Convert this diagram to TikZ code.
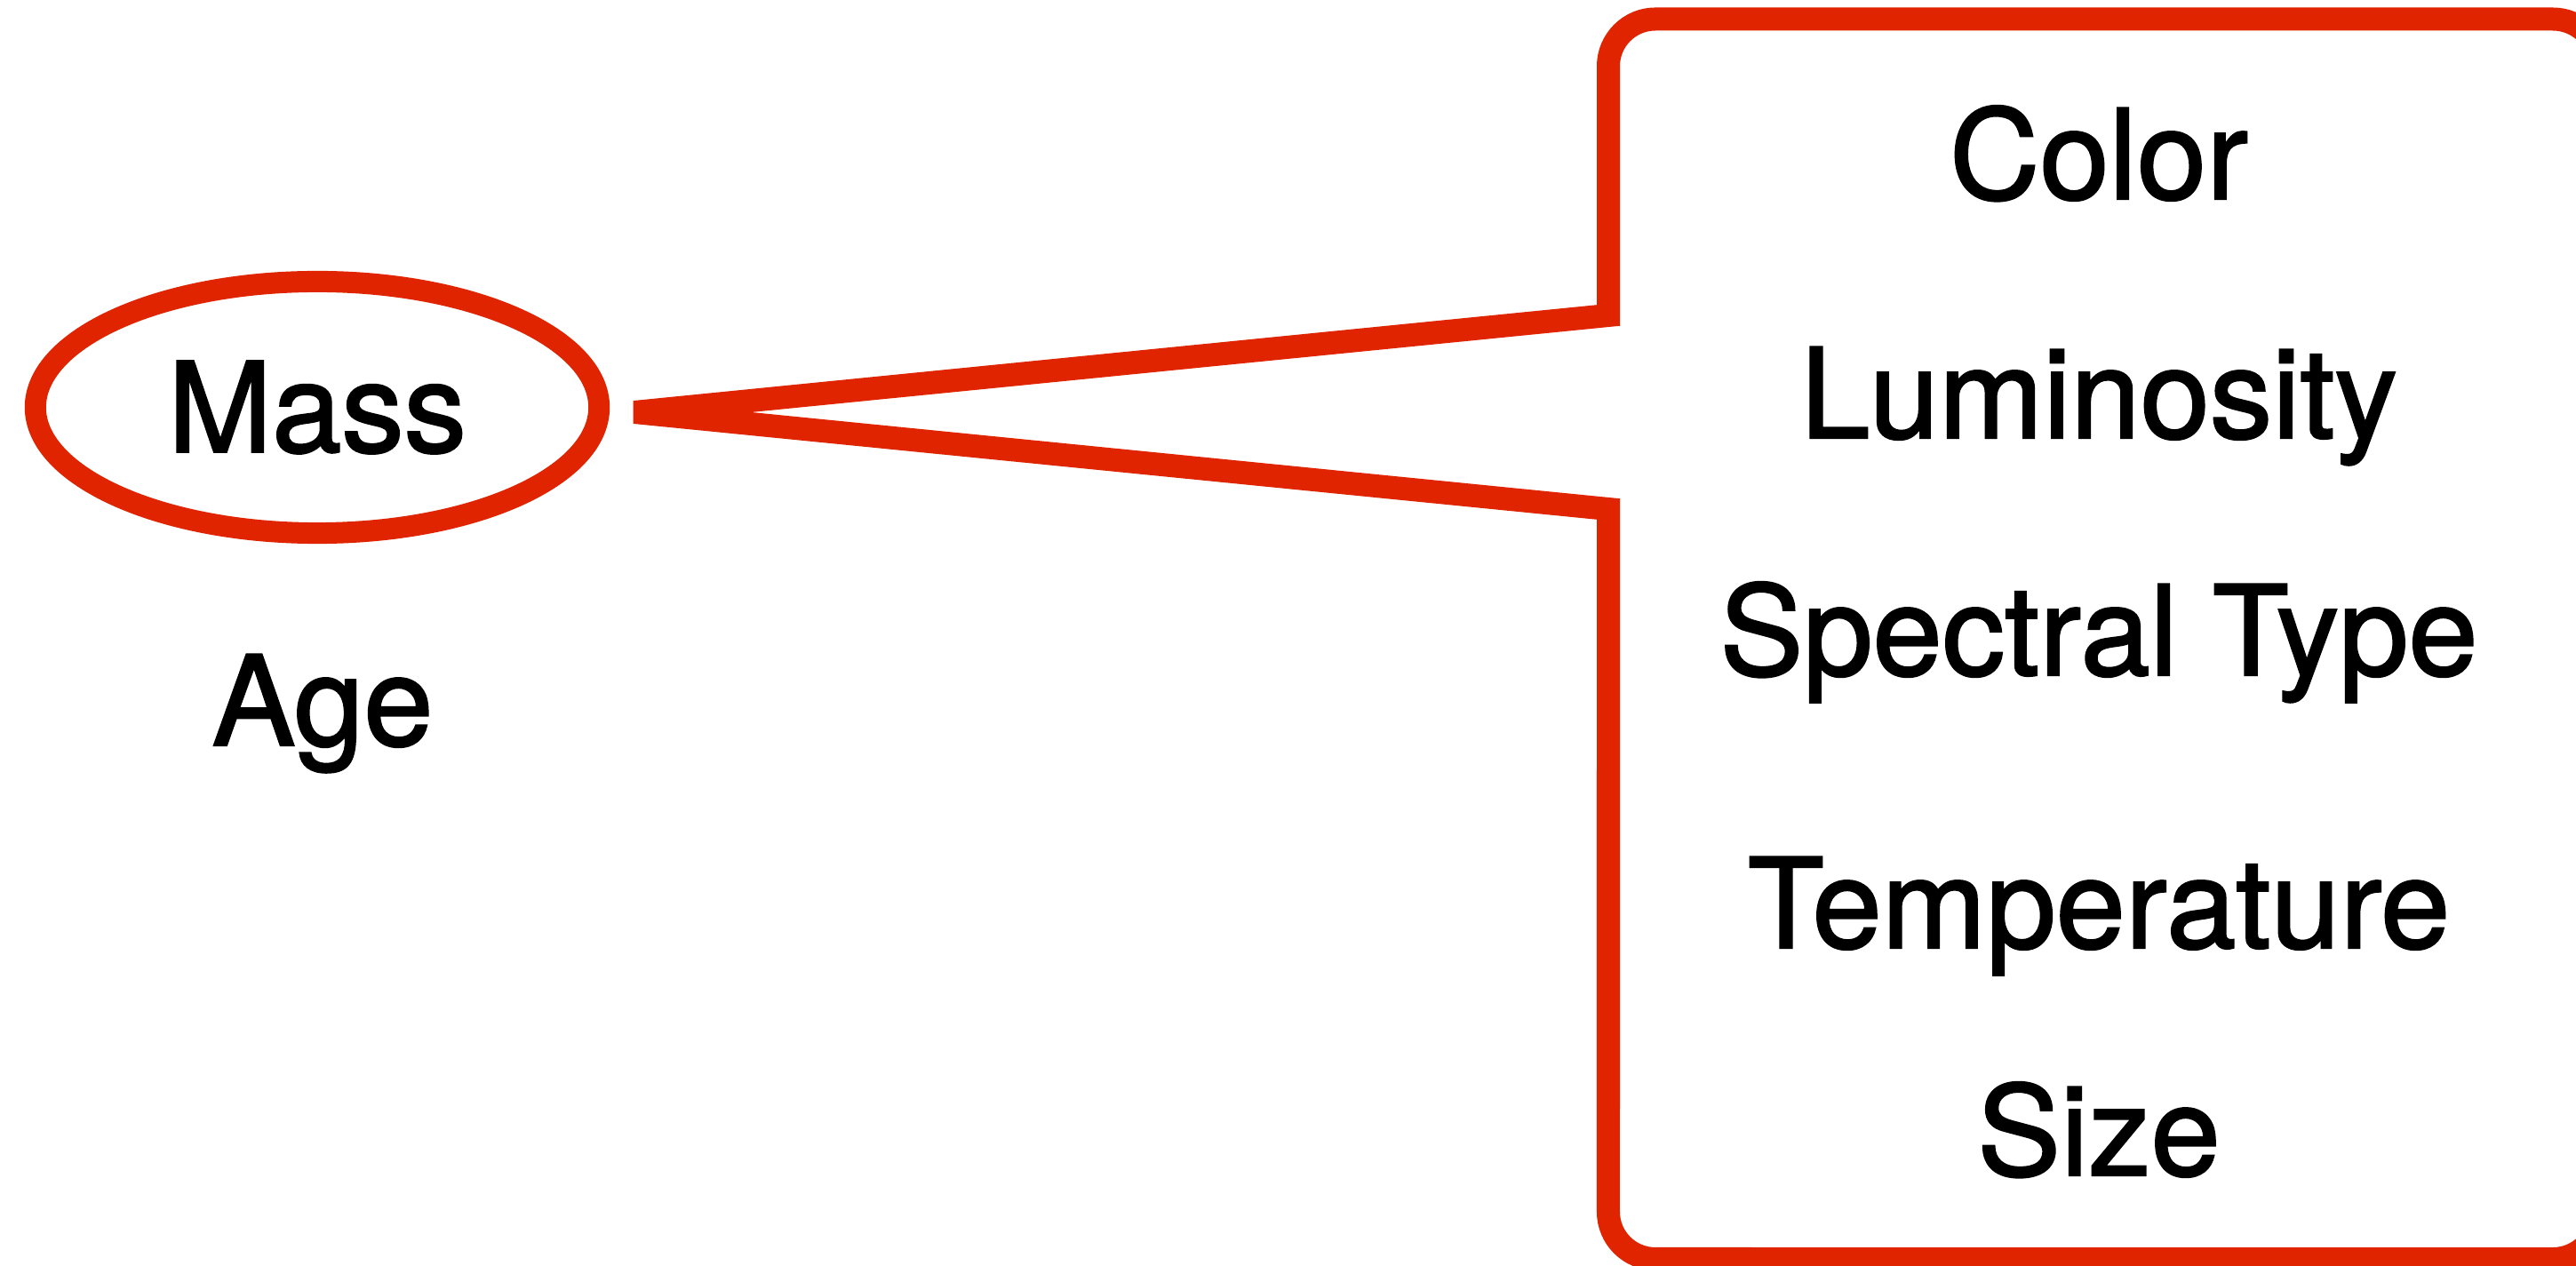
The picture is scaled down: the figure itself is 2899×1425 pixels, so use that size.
\documentclass[tikz,border=0pt]{standalone}
\usepackage{fontspec}
\setmainfont[FakeBold=1.6]{TeX Gyre Heros}
\usetikzlibrary{shapes.geometric}
\definecolor{calloutred}{RGB}{225,36,0}
\tikzset{
  lbl/.style={anchor=base, inner sep=0pt, font=\fontsize{40}{48}\selectfont, text=black},
  massoval/.style={ellipse, draw=calloutred, line width=0.24cm, minimum width=6.34cm, minimum height=2.83cm, inner sep=0pt, font=\fontsize{40}{48}\selectfont},
  calloutline/.style={draw=calloutred, line width=0.26cm, line join=miter, miter limit=5}
}
\begin{document}
\begin{tikzpicture}[x=0.01cm, y=0.01cm]
\useasboundingbox (0,0) rectangle (2899,-1425);
\clip (0,0) rectangle (2899,-1425);
% left side
\node[massoval] (mass) at (357,-458.5) {Mass};
\node[lbl] (age) at (363,-839) {Age};
% callout
\coordinate (tip) at (714,-464);
\coordinate (jU) at (1810,-355);
\coordinate (jL) at (1810,-573);
\draw[calloutline] (jU) -- (1810,-74.5) arc[start angle=180, end angle=90, radius=0.53cm]
  -- (2873,-21.5) arc[start angle=90, end angle=0, radius=0.53cm]
  -- (2926,-1364) arc[start angle=0, end angle=-90, radius=0.53cm]
  -- (1863,-1417) arc[start angle=270, end angle=180, radius=0.53cm]
  -- (jL) -- (tip) -- cycle;
% properties
\node[lbl] (color) at (2362,-224) {Color};
\node[lbl] (lum) at (2362,-493) {Luminosity};
\node[lbl] (spec) at (2362,-760) {Spectral Type};
\node[lbl] (temp) at (2362,-1067) {Temperature};
\node[lbl] (size) at (2362,-1323) {Size};
\end{tikzpicture}
\end{document}
